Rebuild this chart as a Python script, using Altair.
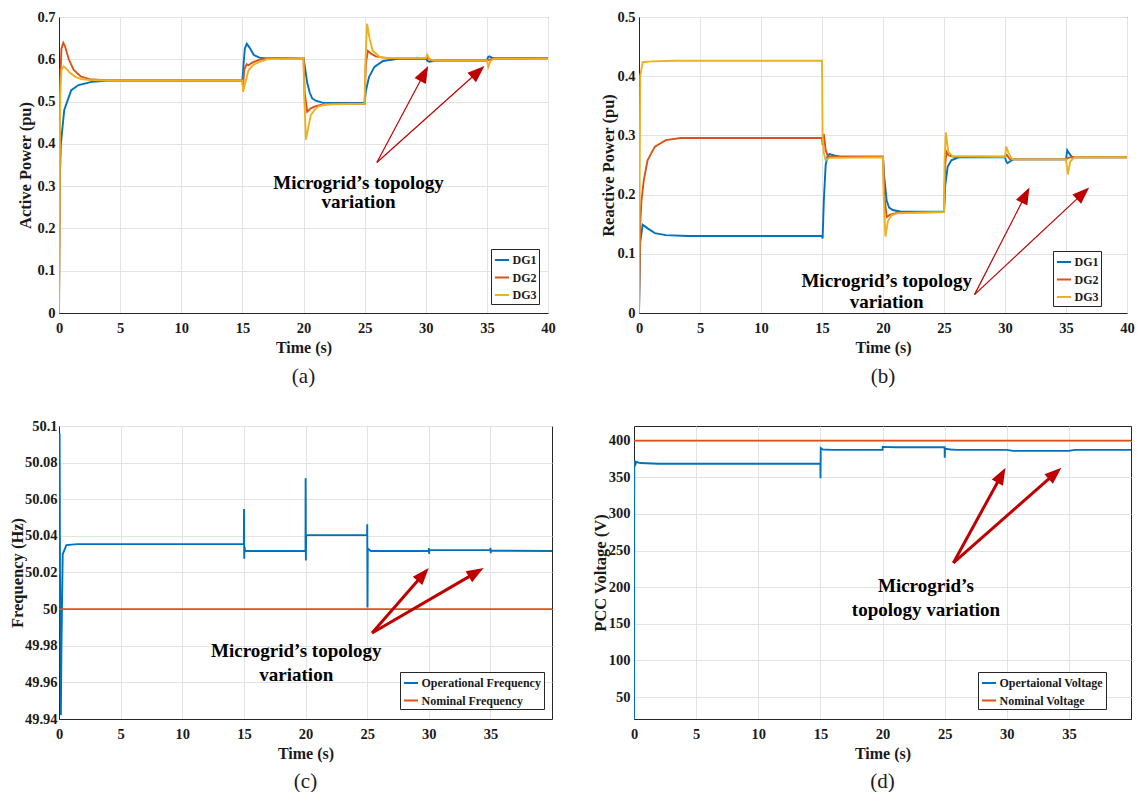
import math
import altair as alt
import pandas as pd

FONT = "Liberation Serif"
INK = "#1a1a1a"
BLUE, ORANGE, YELLOW, RED = "#0072BD", "#D95319", "#EDB120", "#C00000"

# ---------------- data (time s, value) ----------------
# (a) Active power (pu)
a_dg1 = [(0, 0), (0.05, 0.30), (0.15, 0.40), (0.43, 0.48), (1.0, 0.527), (1.6, 0.539), (2.75, 0.547),
         (4.0, 0.550), (15.0, 0.550), (15.1, 0.59), (15.2, 0.625), (15.36, 0.637), (15.6, 0.627),
         (15.94, 0.610), (16.4, 0.604), (16.96, 0.602), (20.0, 0.603), (20.1, 0.585), (20.3, 0.545),
         (20.5, 0.522), (20.7, 0.508), (21.0, 0.502), (21.6, 0.497), (25.0, 0.497), (25.1, 0.525),
         (25.36, 0.558), (25.8, 0.582), (26.5, 0.596), (27.7, 0.601), (30.0, 0.602), (30.15, 0.596),
         (30.3, 0.594), (30.6, 0.596), (31.0, 0.597), (35.0, 0.597), (35.1, 0.605), (35.2, 0.607),
         (35.4, 0.604), (35.8, 0.603), (40.0, 0.603)]
a_dg2 = [(0, 0), (0.1, 0.55), (0.2, 0.625), (0.35, 0.639), (0.5, 0.630), (0.8, 0.600), (1.2, 0.575),
         (1.8, 0.559), (2.5, 0.553), (4.0, 0.550), (15.0, 0.550), (15.05, 0.535), (15.15, 0.575),
         (15.35, 0.588), (15.5, 0.586), (15.8, 0.592), (16.4, 0.599), (17.0, 0.602), (20.0, 0.603),
         (20.1, 0.52), (20.3, 0.476), (20.6, 0.484), (21.0, 0.489), (21.6, 0.493), (22.5, 0.495),
         (25.0, 0.495), (25.1, 0.59), (25.27, 0.620), (25.5, 0.614), (25.9, 0.607), (26.5, 0.604),
         (30.0, 0.603), (30.15, 0.603), (30.4, 0.598), (30.8, 0.597), (35.0, 0.597), (35.15, 0.598),
         (35.4, 0.601), (40.0, 0.602)]
a_dg3 = [(0, 0), (0.1, 0.52), (0.2, 0.575), (0.38, 0.583), (0.6, 0.578), (0.9, 0.568), (1.3, 0.559),
         (1.8, 0.553), (2.5, 0.551), (4.0, 0.550), (15.0, 0.550), (15.05, 0.523), (15.2, 0.540),
         (15.5, 0.574), (15.9, 0.587), (16.4, 0.594), (17.0, 0.600), (20.0, 0.603), (20.05, 0.52),
         (20.2, 0.410), (20.4, 0.440), (20.6, 0.468), (20.9, 0.480), (21.2, 0.488), (21.8, 0.493),
         (25.0, 0.495), (25.05, 0.58), (25.2, 0.684), (25.4, 0.650), (25.65, 0.621), (26.2, 0.606),
         (26.8, 0.603), (30.0, 0.603), (30.12, 0.611), (30.3, 0.601), (30.6, 0.597), (35.0, 0.597),
         (35.12, 0.582), (35.3, 0.596), (35.6, 0.602), (40.0, 0.602)]

# (b) Reactive power (pu)
b_dg1 = [(0, 0), (0.1, 0.12), (0.3, 0.149), (0.7, 0.143), (1.3, 0.135), (2.2, 0.1315), (4.0, 0.130),
         (15.0, 0.130), (15.05, 0.126), (15.15, 0.19), (15.3, 0.25), (15.45, 0.264), (15.6, 0.2685),
         (16.0, 0.266), (16.5, 0.264), (20.0, 0.264), (20.1, 0.23), (20.3, 0.19), (20.5, 0.178),
         (20.8, 0.174), (21.5, 0.171), (25.0, 0.171), (25.1, 0.215), (25.3, 0.247), (25.6, 0.258),
         (26.2, 0.263), (30.0, 0.263), (30.1, 0.256), (30.2, 0.253), (30.4, 0.256), (30.7, 0.2595),
         (35.0, 0.2595), (35.1, 0.275), (35.25, 0.270), (35.5, 0.263), (40.0, 0.263)]
b_dg2 = [(0, 0), (0.1, 0.15), (0.2, 0.19), (0.4, 0.225), (0.7, 0.258), (1.3, 0.281), (2.2, 0.292),
         (3.4, 0.2955), (15.0, 0.2955), (15.05, 0.284), (15.15, 0.302), (15.3, 0.275), (15.5, 0.264),
         (16.0, 0.264), (20.0, 0.264), (20.1, 0.20), (20.3, 0.162), (20.6, 0.166), (21.2, 0.1695),
         (25.0, 0.1705), (25.1, 0.25), (25.2, 0.2725), (25.4, 0.266), (25.8, 0.264), (30.0, 0.264),
         (30.15, 0.267), (30.4, 0.2595), (35.0, 0.2595), (35.15, 0.262), (35.4, 0.263), (40.0, 0.263)]
b_dg3 = [(0, 0), (0.1, 0.40), (0.3, 0.4236), (1.0, 0.425), (3.0, 0.426), (15.0, 0.426), (15.05, 0.30),
         (15.15, 0.27), (15.3, 0.258), (15.6, 0.262), (20.0, 0.263), (20.05, 0.20), (20.2, 0.129),
         (20.4, 0.155), (20.7, 0.165), (21.2, 0.1685), (25.0, 0.1705), (25.05, 0.26), (25.15, 0.305),
         (25.35, 0.272), (25.7, 0.265), (30.0, 0.264), (30.1, 0.281), (30.3, 0.270), (30.6, 0.2595),
         (35.0, 0.2595), (35.15, 0.234), (35.35, 0.256), (35.7, 0.263), (40.0, 0.263)]

# (c) Frequency (Hz)
c_oper = [(0, 50.0), (0.02, 50.05), (0.05, 50.096), (0.08, 50.02), (0.12, 49.99), (0.15, 49.942),
          (0.2, 49.98), (0.3, 50.03), (0.6, 50.035), (1.5, 50.0355), (15.0, 50.0355), (15.01, 50.0547),
          (15.03, 50.0275), (15.05, 50.034), (15.1, 50.0317), (20.0, 50.0317), (20.01, 50.0714),
          (20.03, 50.0266), (20.05, 50.0404), (25.0, 50.0404), (25.01, 50.0464), (25.03, 50.0009),
          (25.05, 50.033), (25.3, 50.0317), (30.0, 50.0317), (30.01, 50.0333), (30.03, 50.0302),
          (30.05, 50.0322), (35.0, 50.0322), (35.01, 50.0335), (35.03, 50.0305), (35.05, 50.0319),
          (40.0, 50.0317)]
c_nom = [(0, 50.0), (40.0, 50.0)]

# (d) PCC voltage (V)
d_oper = [(0, 0), (0.02, 371), (0.05, 373), (0.1, 367), (0.2, 371), (0.5, 369.4), (2.0, 368.5),
          (15.0, 368.5), (15.01, 348.6), (15.03, 390), (15.2, 388), (16.0, 387.4), (20.0, 387.4),
          (20.02, 391.5), (21.0, 391), (25.0, 391), (25.01, 376.6), (25.03, 389), (25.5, 388),
          (26.0, 387.4), (30.0, 387.4), (30.5, 386), (35.0, 386), (35.5, 387.4), (40.0, 387.4)]
d_nom = [(0, 400), (40.0, 400)]

# annotations: arrow tail, arrow tips, text lines (time, value)
a_tail, a_tips = (26.0, 0.356), [(30.2, 0.584), (34.8, 0.584)]
a_text = [("Microgrid’s topology", 24.5, 0.308), ("variation", 24.5, 0.262)]
b_tail, b_tips = (27.5, 0.031), [(32.0, 0.212), (36.9, 0.212)]
b_text = [("Microgrid’s topology", 20.3, 0.0545), ("variation", 20.3, 0.018)]
c_tail, c_tips = (25.4, 49.987), [(30.0, 50.0224), (34.45, 50.0224)]
c_text = [("Microgrid’s topology", 19.25, 49.977), ("variation", 19.25, 49.964)]
d_tail, d_tips = (25.7, 233), [(29.9, 363), (34.4, 363)]
d_text = [("Microgrid’s", 23.5, 202), ("topology variation", 23.5, 169)]

HEAD = "M0,0L0.75,2L-0.75,2Z"
HEAD_LEN = 17


def series_frame(named):
    rows = []
    for name, pts in named:
        for i, (t, v) in enumerate(pts):
            rows.append({"s": name, "t": t, "v": v, "i": i})
    return pd.DataFrame(rows)


def arrow_frames(tail, tips, W, H, xdom, ydom):
    pxX = W / (xdom[1] - xdom[0])
    pxY = H / (ydom[1] - ydom[0])
    shafts, heads = [], []
    for tip in tips:
        dx = (tip[0] - tail[0]) * pxX
        dy = -(tip[1] - tail[1]) * pxY
        L = math.hypot(dx, dy)
        ux, uy = dx / L, dy / L
        back = 0.7 * HEAD_LEN
        shafts.append({"t": tail[0], "v": tail[1],
                       "t2": tip[0] - back * ux / pxX, "v2": tip[1] + back * uy / pxY})
        heads.append({"t": tip[0], "v": tip[1], "a": math.degrees(math.atan2(dx, -dy)) % 360})
    return pd.DataFrame(shafts), pd.DataFrame(heads)


def panel(named, colors, W, H, xdom, xticks, ydom, yticks, yfmt, ytitle, ytp, ylp,
          lx, ly, tail, tips, texts, shaft_w, caption, cap_off):
    df = series_frame(named)
    X = alt.X("t:Q", scale=alt.Scale(domain=xdom, nice=False, zero=False),
              axis=alt.Axis(values=xticks, title="Time (s)", format="d"))
    Y = alt.Y("v:Q", scale=alt.Scale(domain=ydom, nice=False, zero=False),
              axis=alt.Axis(values=yticks, format=yfmt, title=ytitle, titlePadding=ytp,
                            labelPadding=ylp))
    names = [n for n, _ in named]
    lines = alt.Chart(df).mark_line(strokeWidth=1.9, clip=True).encode(
        x=X, y=Y,
        color=alt.Color("s:N", scale=alt.Scale(domain=names, range=colors),
                        legend=alt.Legend(orient="none", legendX=lx, legendY=ly, title=None)),
        order="i:Q",
    )
    sh, hd = arrow_frames(tail, tips, W, H, xdom, ydom)
    shafts = alt.Chart(sh).mark_rule(color=RED, strokeWidth=shaft_w).encode(
        x=X, y=Y, x2="t2:Q", y2="v2:Q")
    heads = alt.Chart(hd).mark_point(shape=HEAD, filled=True, color=RED, opacity=1,
                                     size=HEAD_LEN ** 2, strokeWidth=0).encode(
        x=X, y=Y, angle=alt.Angle("a:Q", scale=None))
    tdf = pd.DataFrame([{"label": s, "t": t, "v": v} for s, t, v in texts])
    txt = alt.Chart(tdf).mark_text(font=FONT, fontWeight="bold", fontSize=19, color="black").encode(
        x=X, y=Y, text="label:N")
    return alt.layer(lines, shafts, heads, txt).properties(
        width=W, height=H,
        title=alt.TitleParams(caption, orient="bottom", font=FONT, fontSize=21,
                              fontWeight="normal", color=INK, offset=cap_off),
    )


x40 = [0, 5, 10, 15, 20, 25, 30, 35, 40]
x35 = [0, 5, 10, 15, 20, 25, 30, 35]

pa = panel([("DG1", a_dg1), ("DG2", a_dg2), ("DG3", a_dg3)], [BLUE, ORANGE, YELLOW],
           489, 296, [0, 40], x40, [0, 0.7], [0, 0.1, 0.2, 0.3, 0.4, 0.5, 0.6, 0.7], ".1~f",
           "Active Power (pu)", 3, 4, 432, 232, a_tail, a_tips, a_text, 1.2, "(a)", 10)
pb = panel([("DG1", b_dg1), ("DG2", b_dg2), ("DG3", b_dg3)], [BLUE, ORANGE, YELLOW],
           488, 296, [0, 40], x40, [0, 0.5], [0, 0.1, 0.2, 0.3, 0.4, 0.5], ".1~f",
           "Reactive Power (pu)", 0, 4, 414, 234, b_tail, b_tips, b_text, 1.2, "(b)", 10)
pc = panel([("Operational Frequency", c_oper), ("Nominal Frequency", c_nom)], [BLUE, ORANGE],
           493, 293, [0, 40], x35, [49.94, 50.1],
           [49.94, 49.96, 49.98, 50.0, 50.02, 50.04, 50.06, 50.08, 50.1], ".2~f",
           "Frequency (Hz)", -1, 2, 341, 246, c_tail, c_tips, c_text, 3, "(c)", 9)
pd_ = panel([("Opertaional Voltage", d_oper), ("Nominal Voltage", d_nom)], [BLUE, ORANGE],
            497, 293, [0, 40], x35, [20, 420], [50, 100, 150, 200, 250, 300, 350, 400], "d",
            "PCC Voltage (V)", 0, 4, 344, 246, d_tail, d_tips, d_text, 3, "(d)", 9)

res = dict(x="independent", y="independent", color="independent")
row1 = alt.hconcat(pa, pb, spacing=44).resolve_scale(**res).resolve_legend(color="independent")
row2 = alt.hconcat(pc, pd_, spacing=38).resolve_scale(**res).resolve_legend(color="independent")

chart = alt.vconcat(row1, row2, spacing=30).resolve_scale(**res).resolve_legend(
    color="independent"
).properties(
    padding={"left": 0, "top": 0, "right": 0, "bottom": 0},
    background="white",
).configure_axis(
    labelFont=FONT, labelFontWeight="bold", labelFontSize=14.5, labelColor=INK,
    titleFont=FONT, titleFontWeight="bold", titleFontSize=16.5, titleColor=INK,
    gridColor="#e3e3e3", gridWidth=1, domainColor="#262626", ticks=False,
    labelPadding=4, labelFlush=False, titlePadding=3,
).configure_axisX(
    labelPadding=8, titlePadding=5, titleFontSize=16,
).configure_view(
    stroke="#262626", strokeWidth=1,
).configure_legend(
    strokeColor="#262626", fillColor="white", padding=2.5, cornerRadius=0,
    labelFont=FONT, labelFontWeight="bold", labelFontSize=12, labelColor=INK,
    symbolType="stroke", symbolSize=200, symbolStrokeWidth=2, rowPadding=2.5,
    labelOffset=2, labelLimit=300,
)

chart.save("out.html", embed_options={"renderer": "svg", "actions": False})
